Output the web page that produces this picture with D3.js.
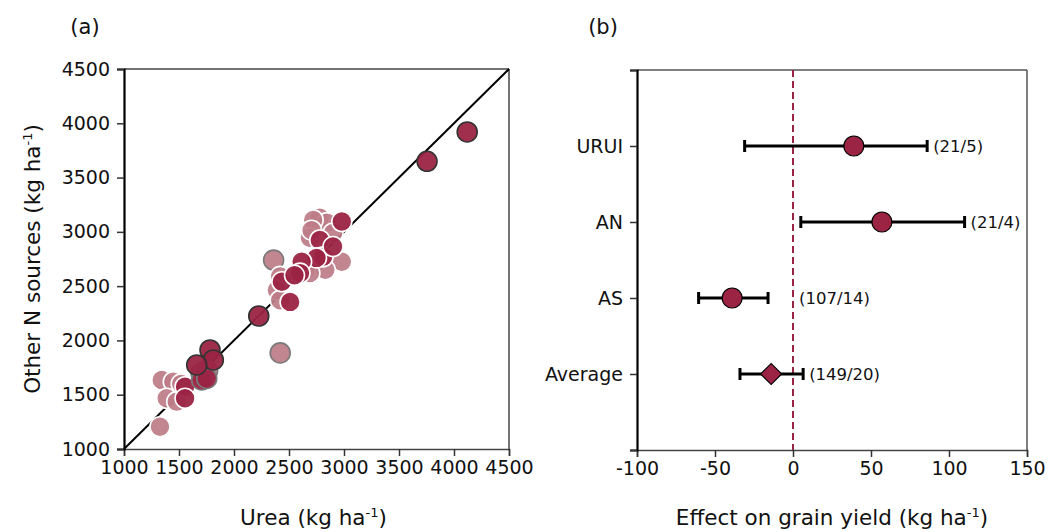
<!DOCTYPE html>
<html><head><meta charset="utf-8">
<script src="https://cdn.jsdelivr.net/npm/d3@7"></script>
<style>
body{margin:0;background:#fff;}
svg text{font-family:"DejaVu Sans",sans-serif;fill:#111;}
</style></head>
<body>
<svg id="c" width="1060" height="532"></svg>
<script>
// ---- Panel (a) data ----
const urea  = [2420,2360,2780,2845,2720,2690,2980,2830,2650,2690,2420,2390,2420,2705,2900,
               1343,1448,1388,1479,1327,1520,1736,1760,1700,
               2980,2780,2810,2750,2615,2600,2435,2510,2900,2550,
               1555,1555,1706,1752,
               4120,3755,2225,1782,1812,1661];
const other = [1885,2740,3130,3085,3110,2945,2725,2650,2650,2620,2590,2465,2370,3015,2990,
               1636,1620,1467,1436,1205,1600,1700,1720,1700,
               3095,2925,2770,2760,2725,2620,2540,2355,2865,2600,
               1574,1467,1636,1650,
               3920,3650,2225,1912,1820,1774];
const shade = ["l","l","l","l","l","l","l","l","l","l","l","l","l","l","l",
               "l","l","l","l","l","l","l","l","l",
               "d","d","d","d","d","d","d","d","d","d",
               "d","d","d","d",
               "d","d","d","d","d","d"];
const edge  = ["g","g","w","w","w","w","w","w","w","w","w","w","w","w","w",
               "w","w","w","w","w","w","g","g","g",
               "w","w","w","w","w","w","w","w","w","w",
               "w","w","g","g",
               "k","k","k","k","k","k"];
const axTicksA = [1000,1500,2000,2500,3000,3500,4000,4500];

// ---- Panel (b) data ----
const cats   = ["Average","AS","AN","URUI"];
const effect = [-14, -39, 57, 39];
const lower  = [-34, -60.5, 5, -31];
const upper  = [6.5, -16, 110, 86];
const nObs   = ["(149/20)","(107/14)","(21/4)","(21/5)"];
const marker = ["diamond","circle","circle","circle"];
const axTicksB = [-100,-50,0,50,100,150];

const svg = d3.select("#c");
const crimson = "#9b2343";
const fills = {d: crimson, l: "#bd7c87"};
const fillOp = {d: 0.95, l: 0.92};
const edges = {w: "#ffffff", g: "#7a7a7a", k: "#333333"};
const fmt = v => String(v);

function supLabel(sel, main, sup, tail){
  sel.text(null);
  sel.append("tspan").text(main);
  sel.append("tspan").attr("font-size","13px").attr("dy","-8").text(sup);
  sel.append("tspan").attr("dy","8").text(tail);
}

// ===== Panel (a) =====
const ax = {l:124, r:509, t:69, b:449};
const x = d3.scaleLinear().domain([1000,4500]).range([ax.l, ax.r]);
const y = d3.scaleLinear().domain([1000,4500]).range([ax.b, ax.t]);
const gA = svg.append("g");

gA.append("line").attr("x1",ax.l).attr("x2",ax.r).attr("y1",ax.t).attr("y2",ax.t).attr("stroke","#444").attr("stroke-width",1.5);
gA.append("line").attr("x1",ax.r).attr("x2",ax.r).attr("y1",ax.t).attr("y2",ax.b).attr("stroke","#444").attr("stroke-width",1.5);

gA.append("line").attr("x1",x(1000)).attr("y1",y(1000)).attr("x2",x(4500)).attr("y2",y(4500))
  .attr("stroke","#000").attr("stroke-width",2);

const pts = urea.map((u,i)=>({u, o:other[i], s:shade[i], e:edge[i]}));
gA.selectAll("circle.p").data(pts).join("circle").attr("class","p")
  .attr("cx",d=>x(d.u)).attr("cy",d=>y(d.o)).attr("r",10)
  .attr("fill",d=>fills[d.s]).attr("fill-opacity",d=>fillOp[d.s])
  .attr("stroke",d=>edges[d.e]).attr("stroke-width",1.6);

const xAxA = gA.append("g").attr("transform",`translate(0,${ax.b})`)
  .call(d3.axisBottom(x).tickValues(axTicksA).tickFormat(fmt).tickSizeOuter(0).tickSize(7).tickPadding(5));
const yAxA = gA.append("g").attr("transform",`translate(${ax.l},0)`)
  .call(d3.axisLeft(y).tickValues(axTicksA).tickFormat(fmt).tickSizeOuter(0).tickSize(7).tickPadding(7));
[xAxA,yAxA].forEach(g=>{
  g.selectAll("text").attr("font-size","19px").attr("font-family","DejaVu Sans").attr("fill","#111");
  g.selectAll("line").attr("stroke","#333").attr("stroke-width",1.5);
});
xAxA.select(".domain").attr("stroke","#444").attr("stroke-width",1.5);
yAxA.select(".domain").attr("stroke","#000").attr("stroke-width",2.2);

svg.append("text").attr("x",(ax.l+ax.r)/2 - 3).attr("y",525).attr("text-anchor","middle")
  .attr("font-size","21.5px").call(supLabel,"Urea (kg ha","-1",")");
svg.append("text").attr("transform",`translate(40,${(ax.t+ax.b)/2}) rotate(-90)`).attr("text-anchor","middle")
  .attr("font-size","21.5px").call(supLabel,"Other N sources (kg ha","-1",")");
svg.append("text").attr("x",85).attr("y",34).attr("text-anchor","middle").attr("font-size","21px").text("(a)");

// ===== Panel (b) =====
const bx = {l:637, r:1027, t:70, b:450};
const xb = d3.scaleLinear().domain([-100,150]).range([bx.l,bx.r]);
const yb = d3.scaleLinear().domain([0,5]).range([bx.b,bx.t]);
const gB = svg.append("g");

gB.append("line").attr("x1",bx.l).attr("x2",bx.r).attr("y1",bx.t).attr("y2",bx.t).attr("stroke","#555").attr("stroke-width",1.5);
gB.append("line").attr("x1",bx.r).attr("x2",bx.r).attr("y1",bx.t).attr("y2",bx.b).attr("stroke","#555").attr("stroke-width",1.5);

gB.append("line").attr("x1",xb(0)).attr("x2",xb(0)).attr("y1",bx.t).attr("y2",bx.b)
  .attr("stroke",crimson).attr("stroke-width",2).attr("stroke-dasharray","7,4");

const rows = cats.map((c,i)=>({c, pos:i+1, m:effect[i], lo:lower[i], hi:upper[i], n:nObs[i], mk:marker[i]}));
const cap = 6;
const eb = gB.selectAll("g.row").data(rows).join("g").attr("class","row");
eb.append("line").attr("x1",d=>xb(d.lo)).attr("x2",d=>xb(d.hi)).attr("y1",d=>yb(d.pos)).attr("y2",d=>yb(d.pos))
  .attr("stroke","#000").attr("stroke-width",3);
eb.append("line").attr("x1",d=>xb(d.lo)).attr("x2",d=>xb(d.lo)).attr("y1",d=>yb(d.pos)-cap).attr("y2",d=>yb(d.pos)+cap)
  .attr("stroke","#000").attr("stroke-width",3);
eb.append("line").attr("x1",d=>xb(d.hi)).attr("x2",d=>xb(d.hi)).attr("y1",d=>yb(d.pos)-cap).attr("y2",d=>yb(d.pos)+cap)
  .attr("stroke","#000").attr("stroke-width",3);
eb.filter(d=>d.mk==="circle").append("circle").attr("cx",d=>xb(d.m)).attr("cy",d=>yb(d.pos)).attr("r",10)
  .attr("fill",crimson).attr("stroke","#000").attr("stroke-width",1.2);
eb.filter(d=>d.mk==="diamond").append("path")
  .attr("d",d3.symbol().type(d3.symbolSquare).size(220))
  .attr("transform",d=>`translate(${xb(d.m)},${yb(d.pos)}) rotate(45)`)
  .attr("fill",crimson).attr("stroke","#000").attr("stroke-width",1.2);
eb.append("text").attr("x",d=>xb(Math.max(d.hi,0))+6).attr("y",d=>yb(d.pos)).attr("dy","0.36em")
  .attr("font-size","16.5px").text(d=>d.n);

const xAxB = gB.append("g").attr("transform",`translate(0,${bx.b})`)
  .call(d3.axisBottom(xb).tickValues(axTicksB).tickFormat(fmt).tickSizeOuter(0).tickSize(7).tickPadding(5));
const yAxB = gB.append("g").attr("transform",`translate(${bx.l},0)`)
  .call(d3.axisLeft(yb).tickValues([0,1,2,3,4,5]).tickFormat(v=>(v>=1&&v<=4)?cats[v-1]:"")
        .tickSizeOuter(0).tickSize(7).tickPadding(7));
[xAxB,yAxB].forEach(g=>{
  g.selectAll("text").attr("font-size","19px").attr("font-family","DejaVu Sans").attr("fill","#111");
  g.selectAll("line").attr("stroke","#333").attr("stroke-width",1.5);
});
xAxB.select(".domain").attr("stroke","#444").attr("stroke-width",1.5);
yAxB.select(".domain").attr("stroke","#000").attr("stroke-width",2.2);

svg.append("text").attr("x",(bx.l+bx.r)/2).attr("y",525).attr("text-anchor","middle")
  .attr("font-size","21.5px").call(supLabel,"Effect on grain yield (kg ha","-1",")");
svg.append("text").attr("x",603).attr("y",34).attr("text-anchor","middle").attr("font-size","21px").text("(b)");
</script>
</body></html>
